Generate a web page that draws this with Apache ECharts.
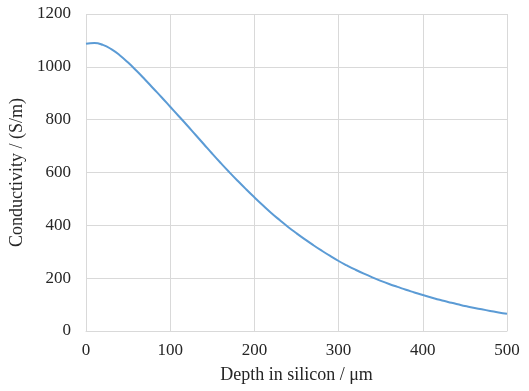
<!DOCTYPE html>
<html>
<head>
<meta charset="utf-8">
<script src="https://cdn.jsdelivr.net/npm/echarts@6/dist/echarts.min.js"></script>
<style>
  html, body { margin: 0; padding: 0; background: #fff; }
</style>
</head>
<body>
<div id="main" style="width: 529px;height:391px;"></div>
<script>
// depth in silicon (um)
var depth = [0, 10, 20, 30, 40, 50, 60, 70, 80, 90,
  100, 110, 120, 130, 140, 150, 160, 170, 180, 190,
  200, 210, 220, 230, 240, 250, 260, 270, 280, 290,
  300, 310, 320, 330, 340, 350, 360, 370, 380, 390,
  400, 410, 420, 430, 440, 450, 460, 470, 480, 490, 500]
// conductivity (S/m)
var conductivity = [1087, 1090, 1083, 1067, 1044, 1016, 985, 952, 918, 884,
  849, 814, 779, 743, 707, 671, 636, 602, 569, 537,
  506, 476, 447, 420, 394, 370, 347, 325, 304, 284,
  265, 248, 232, 217, 203, 190, 178, 167, 156, 146,
  136, 127, 118, 110, 102, 95, 88, 82, 76, 70, 65]
var xTicks = [0, 100, 200, 300, 400, 500]
var yTicks = [0, 200, 400, 600, 800, 1000, 1200]

var font = '"Liberation Serif", "Times New Roman", serif'
var textColor = '#262626'
var gridColor = '#d9d9d9'

var myChart = echarts.init(document.getElementById('main'))
var points = depth.map(function (d, i) { return [d, conductivity[i]] })

var option = {
  animation: false,
  grid: { left: 86, right: 22, top: 14, bottom: 60 },
  xAxis: {
    type: 'value',
    min: xTicks[0],
    max: xTicks[xTicks.length - 1],
    interval: 100,
    name: 'Depth in silicon / μm',
    nameLocation: 'middle',
    nameGap: 35,
    nameTextStyle: { fontFamily: font, fontSize: 18, color: textColor },
    axisLine: { show: true, lineStyle: { color: gridColor } },
    axisTick: { show: false },
    axisLabel: {
      fontFamily: font, fontSize: 17, color: textColor, margin: 11,
      formatter: function (v) { return String(v) }
    },
    splitLine: { show: true, lineStyle: { color: gridColor } }
  },
  yAxis: {
    type: 'value',
    min: yTicks[0],
    max: yTicks[yTicks.length - 1],
    interval: 200,
    name: 'Conductivity / (S/m)',
    nameLocation: 'middle',
    nameGap: 54,
    nameTextStyle: { fontFamily: font, fontSize: 18, color: textColor },
    axisLine: { show: false },
    axisTick: { show: false },
    axisLabel: {
      fontFamily: font, fontSize: 17, color: textColor, margin: 15,
      formatter: function (v) { return String(v) }
    },
    splitLine: { show: true, lineStyle: { color: gridColor } }
  },
  series: [{
    type: 'line',
    data: points,
    smooth: true,
    showSymbol: false,
    lineStyle: { color: '#5b9bd5', width: 2 }
  }]
}
myChart.setOption(option)
</script>
</body>
</html>
